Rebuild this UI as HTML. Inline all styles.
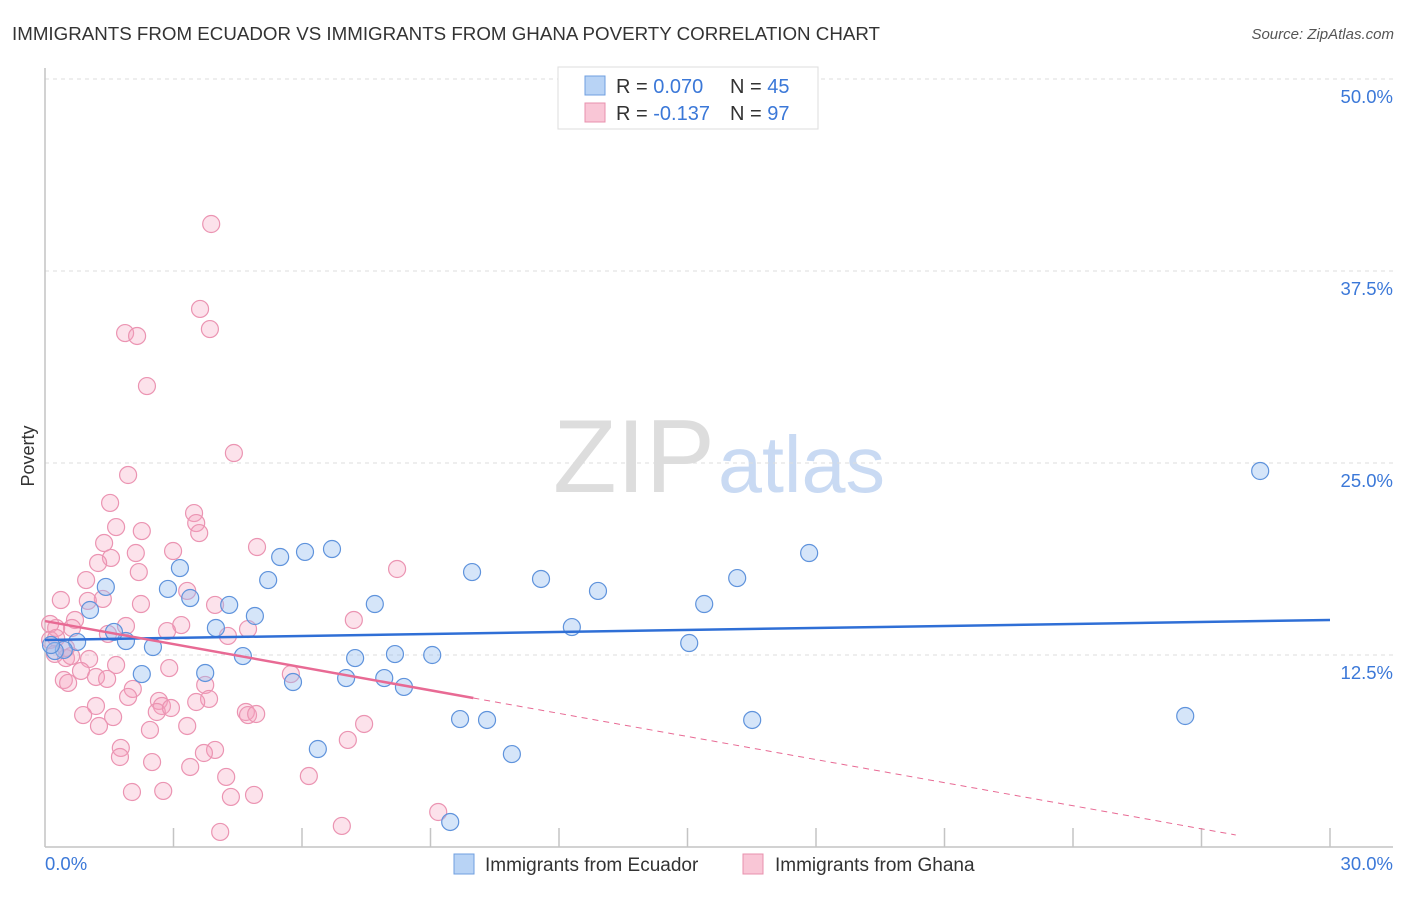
<!DOCTYPE html>
<html><head><meta charset="utf-8"><style>
body{margin:0;background:#fff;font-family:"Liberation Sans",sans-serif;}
svg text{font-family:"Liberation Sans",sans-serif;}
</style></head><body>
<svg width="1406" height="892">
<text x="12" y="40" font-size="18" fill="#333" textLength="868" lengthAdjust="spacingAndGlyphs">IMMIGRANTS FROM ECUADOR VS IMMIGRANTS FROM GHANA POVERTY CORRELATION CHART</text>
<text x="1394" y="39" font-size="15" fill="#555" font-style="italic" text-anchor="end">Source: ZipAtlas.com</text>
<text x="34" y="456" font-size="18" fill="#333" transform="rotate(-90 34 456)" text-anchor="middle">Poverty</text>
<g>
<text x="553" y="492" font-size="104" fill="#ddd" font-family="Liberation Serif, serif" textLength="162" lengthAdjust="spacingAndGlyphs">ZIP</text>
<text x="718" y="492" font-size="80" fill="#c9daf3" textLength="167" lengthAdjust="spacingAndGlyphs">atlas</text>
</g>
<g id="grid"></g>
<g id="axes"></g>
<g id="marks"></g>
<g>
<rect x="558" y="67" width="260" height="62" fill="#fff" stroke="#ddd"/>
<rect x="585" y="76" width="20" height="19" fill="#b8d3f5" stroke="#6f9fe0"/>
<rect x="585" y="103" width="20" height="19" fill="#f9c6d6" stroke="#e890ad"/>
<text x="616" y="93" font-size="20" fill="#333">R = <tspan fill="#3b78d8">0.070</tspan></text>
<text x="730" y="93" font-size="20" fill="#333">N = <tspan fill="#3b78d8">45</tspan></text>
<text x="616" y="120" font-size="20" fill="#333">R = <tspan fill="#3b78d8">-0.137</tspan></text>
<text x="730" y="120" font-size="20" fill="#333">N = <tspan fill="#3b78d8">97</tspan></text>
</g>
<g>
<rect x="454" y="854" width="20" height="20" fill="#b8d3f5" stroke="#6f9fe0"/>
<text x="485" y="871" font-size="19" fill="#333">Immigrants from Ecuador</text>
<rect x="743" y="854" width="20" height="20" fill="#f9c6d6" stroke="#e890ad"/>
<text x="775" y="871" font-size="19" fill="#333">Immigrants from Ghana</text>
</g>
</svg>
<script>
const yTicks=[12.5,25,37.5,50];
const yTickLabels=["12.5%","25.0%","37.5%","50.0%"];
const xTickCount=10;
const xLabels=["0.0%","30.0%"];
const ecuadorX=[28.37,17.84,16.16,15.39,15.04,12.91,12.30,11.58,9.97,10.32,9.69,10.90,9.46,9.04,8.38,8.17,7.92,7.70,7.24,7.03,6.70,6.07,5.49,5.21,4.90,4.62,4.30,3.99,3.74,6.37,5.79,3.39,3.15,2.87,2.52,2.26,1.89,1.61,1.42,1.05,0.75,0.44,0.23,0.14,26.62,16.51];
const ecuadorY=[24.48,19.14,17.51,15.82,13.28,16.67,14.32,17.45,17.90,8.27,8.33,6.05,1.63,12.50,10.42,12.56,11.00,15.82,12.30,11.00,19.40,19.21,18.88,17.38,15.04,12.43,15.76,14.26,11.33,6.38,10.74,16.21,18.16,16.80,13.02,11.26,13.41,14.00,16.93,15.43,13.35,12.83,12.76,13.15,8.53,8.27];
const ghanaX=[3.88,3.62,3.85,1.87,2.15,2.38,4.41,1.94,1.52,3.48,3.53,3.60,1.66,2.26,1.38,2.12,2.99,4.95,1.54,1.24,2.19,0.96,8.22,1.35,1.00,0.37,2.24,3.32,3.97,7.21,0.70,0.63,1.89,3.18,2.85,4.27,4.74,1.47,0.26,0.12,0.12,0.23,0.49,1.03,0.61,1.66,2.90,5.74,0.84,1.19,1.45,0.44,0.54,3.74,2.05,3.83,2.66,2.73,3.53,1.94,1.19,0.89,1.59,2.61,2.94,4.69,4.74,4.93,1.26,2.45,7.45,7.07,3.32,1.77,1.75,3.97,3.71,2.50,3.39,4.23,6.16,2.03,2.76,4.34,4.88,9.18,6.93,4.09,0.26,0.49];
const ghanaY=[40.56,35.03,33.72,33.46,33.27,30.01,25.65,24.22,22.40,21.74,21.09,20.44,20.83,20.57,19.79,19.14,19.27,19.53,18.82,18.49,17.90,17.38,18.10,16.15,16.02,16.08,15.82,16.67,15.76,14.78,14.78,14.26,14.39,14.45,14.06,13.74,14.19,13.87,14.26,14.52,13.48,12.57,12.30,12.24,12.43,11.85,11.65,11.26,11.46,11.07,10.94,10.87,10.68,10.55,10.29,9.64,9.51,9.18,9.44,9.77,9.18,8.59,8.46,8.79,9.05,8.79,8.59,8.66,7.88,7.62,8.01,6.97,7.88,6.45,5.86,6.32,6.12,5.53,5.21,4.56,4.62,3.58,3.65,3.26,3.39,2.28,1.37,0.98,13.61,12.96];
const ecuadorTrend=[13.48,14.78];   // y at x=0 and x=30
const ghanaTrend=[14.71,-0.501];    // intercept, slope per 1%
const NS="http://www.w3.org/2000/svg";
const X0=45,X1=1330,Y0=847,YTOP=79;
const sx=v=>X0+(X1-X0)*v/30;
const sy=v=>Y0-(Y0-YTOP)*v/50;
function mk(tag,attrs,parent){const e=document.createElementNS(NS,tag);for(const k in attrs)e.setAttribute(k,attrs[k]);parent.appendChild(e);return e;}
const grid=document.getElementById('grid'),axes=document.getElementById('axes'),marks=document.getElementById('marks');
yTicks.forEach((t,i)=>{
  const l=mk('line',{x1:X0,x2:1393,y1:sy(t),y2:sy(t),stroke:'#ddd','stroke-dasharray':'4,4'},grid);
  
  
  const tx=mk('text',{x:1393,y:sy(t)+24,'text-anchor':'end','font-size':18.5,fill:'#3b78d8'},axes);
  tx.textContent=yTickLabels[i];
  
  
});
const ax=mk('line',{x1:X0,x2:X0,y1:68,y2:Y0,stroke:'#c4c4c4','stroke-width':1.5},axes);


const bx=mk('line',{x1:X0,x2:1393,y1:Y0,y2:Y0,stroke:'#c4c4c4','stroke-width':1.5},axes);


for(let i=1;i<=xTickCount;i++){
  const v=30*i/xTickCount;
  const t=mk('line',{x1:sx(v),x2:sx(v),y1:828,y2:Y0,stroke:'#c4c4c4','stroke-width':1.5},axes);
  
  
}
const xl0=mk('text',{x:45,y:870,'font-size':18.5,fill:'#3b78d8'},axes);xl0.textContent=xLabels[0];


const xl1=mk('text',{x:1393,y:870,'font-size':18.5,fill:'#3b78d8','text-anchor':'end'},axes);xl1.textContent=xLabels[1];


ghanaX.forEach((x,i)=>{
  const c=mk('circle',{cx:sx(x),cy:sy(ghanaY[i]),r:8.5,fill:'rgba(244,160,190,0.3)',stroke:'#eb94b2','stroke-width':1.2},marks);
  
  
});
ecuadorX.forEach((x,i)=>{
  const c=mk('circle',{cx:sx(x),cy:sy(ecuadorY[i]),r:8.5,fill:'rgba(150,190,240,0.4)',stroke:'#5f93dc','stroke-width':1.2},marks);
  
  
});
const bl=mk('line',{x1:sx(0),y1:sy(ecuadorTrend[0]),x2:sx(30),y2:sy(ecuadorTrend[1]),stroke:'#2f6fd6','stroke-width':2.5},marks);


const gy=x=>ghanaTrend[0]+ghanaTrend[1]*x;
const pl=mk('line',{x1:sx(0),y1:sy(gy(0)),x2:sx(10),y2:sy(gy(10)),stroke:'#e86a94','stroke-width':2.5},marks);


const pd=mk('line',{x1:sx(10),y1:sy(gy(10)),x2:sx(27.8),y2:sy(gy(27.8)),stroke:'#e86a94','stroke-width':1,'stroke-dasharray':'6,5'},marks);


</script>
</body></html>
